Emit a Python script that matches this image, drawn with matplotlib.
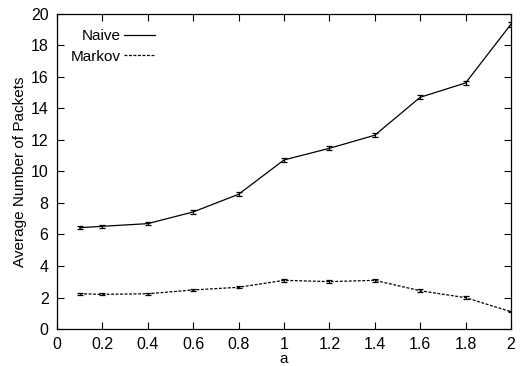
import matplotlib
matplotlib.use("Agg")
import matplotlib.pyplot as plt

plt.rcParams['font.family'] = ['Liberation Sans', 'DejaVu Sans']

a_values = [0.1, 0.2, 0.4, 0.6, 0.8, 1.0, 1.2, 1.4, 1.6, 1.8, 2.0]
naive_mean = [6.43, 6.52, 6.69, 7.43, 8.55, 10.73, 11.47, 12.30, 14.71, 15.62, 19.35]
naive_err = [0.08, 0.08, 0.08, 0.10, 0.12, 0.12, 0.12, 0.13, 0.13, 0.13, 0.15]
markov_mean = [2.24, 2.20, 2.24, 2.48, 2.65, 3.09, 3.01, 3.09, 2.43, 1.99, 1.10]
markov_err = [0.07, 0.07, 0.07, 0.07, 0.07, 0.08, 0.08, 0.08, 0.08, 0.08, 0.05]

x_ticks = [0, 0.2, 0.4, 0.6, 0.8, 1, 1.2, 1.4, 1.6, 1.8, 2]
x_tick_labels = ["0", "0.2", "0.4", "0.6", "0.8", "1", "1.2", "1.4", "1.6", "1.8", "2"]
y_ticks = [0, 2, 4, 6, 8, 10, 12, 14, 16, 18, 20]

fig = plt.figure(figsize=(5.22, 3.66), dpi=100)
ax = fig.add_axes([0.109, 0.101, 0.870, 0.861])

ax.errorbar(a_values, naive_mean, yerr=naive_err, color='black', lw=0.9,
            capsize=2.2, elinewidth=0.9, capthick=0.9, label='Naive')
ax.errorbar(a_values, markov_mean, yerr=markov_err, color='black', lw=0.9,
            ls=(0, (2.3, 1.3)), capsize=2.2, elinewidth=0.9, capthick=0.9,
            label='Markov')

ax.set_xlim(0, 2)
ax.set_ylim(0, 20)
ax.set_xticks(x_ticks)
ax.set_xticklabels(x_tick_labels)
ax.set_yticks(y_ticks)
ax.tick_params(direction='in', top=True, right=True, length=5, width=0.8,
               labelsize=11.5, pad=6)
for s in ax.spines.values():
    s.set_linewidth(0.9)

ax.set_xlabel('a', fontsize=11, labelpad=0)
ax.set_ylabel('Average Number of Packets', fontsize=11, labelpad=3)

handles, labels = ax.get_legend_handles_labels()
handles = [h[0] for h in handles]
ax.legend(handles, labels, loc='upper left', bbox_to_anchor=(0.0, 0.995),
          frameon=False, markerfirst=False, fontsize=11, handlelength=2.0,
          handletextpad=0.25, labelspacing=0.42, borderaxespad=0.5)

fig.savefig('out.png', dpi=100)
